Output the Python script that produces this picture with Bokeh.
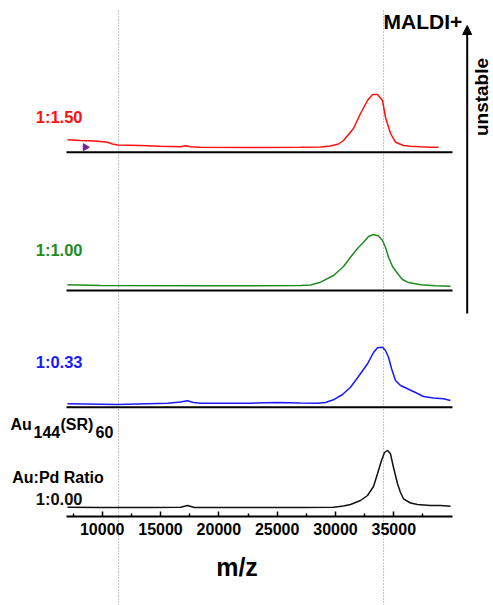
import numpy as np
from bokeh.plotting import figure
from bokeh.models import Range1d, LinearAxis, FixedTicker, Arrow, NormalHead
from bokeh.core.properties import value
from bokeh.embed import file_html
from bokeh.resources import INLINE

# ---- data (m/z, intensity in a.u. above each trace's own baseline) ----
mz_r = [7025, 8140, 9426, 10454, 10883, 11312, 13283, 14997, 16712, 17141, 17570, 18427, 22714, 27000,
        28715, 29572, 30258, 30686, 31543, 32144, 32744, 33173, 33601, 34030, 34288, 34716, 35145, 35830,
        36430, 37288, 38145, 38831]
int_r = [12.4, 11.7, 11.2, 10.0, 8.2, 7.2, 6.7, 5.9, 5.5, 6.4, 5.4, 5.0, 4.7, 4.9,
         5.2, 6.2, 8.2, 11.7, 23.7, 38.7, 51.7, 57.7, 57.7, 51.7, 34.7, 18.7, 10.0, 6.7,
         6.0, 5.4, 5.0, 5.0]

mz_g = [7025, 9854, 18427, 27000, 27857, 28715, 29829, 30686, 31286, 31886, 32401, 32830, 33258, 33687,
        34030, 34288, 34545, 34888, 35316, 35745, 36173, 37288, 38574, 39860]
int_g = [5.7, 5.0, 4.7, 5.0, 5.5, 8.3, 15.0, 24.0, 33.3, 42.0, 48.3, 54.0, 56.0, 54.5,
         50.0, 43.0, 33.3, 24.0, 17.0, 11.0, 8.3, 5.7, 4.7, 4.3]

mz_b = [7025, 11312, 15598, 16712, 17312, 17827, 18427, 22714, 25029, 27000, 28458, 29144, 29829, 30601,
        31286, 31972, 32744, 33258, 33601, 34030, 34288, 34545, 34802, 35145, 35573, 36173, 36859, 37545,
        38402, 39260, 39860]
int_b = [3.4, 2.7, 4.0, 5.2, 6.4, 4.7, 4.0, 4.0, 4.7, 4.2, 4.0, 4.7, 7.4, 12.7,
         20.0, 30.7, 43.4, 54.7, 59.4, 60.0, 56.7, 50.0, 38.7, 26.7, 21.7, 18.4, 14.7, 10.7,
         9.2, 8.4, 6.7]

mz_k = [7025, 9854, 14140, 16712, 17312, 17912, 22714, 27000, 29829, 30686, 31286, 32144, 32744, 33258,
        33601, 33944, 34201, 34459, 34716, 34973, 35316, 35573, 35830, 36430, 37030, 38145, 39002, 39860]
int_k = [9.3, 9.0, 9.0, 9.3, 11.0, 9.0, 9.0, 9.0, 9.3, 10.5, 12.0, 16.0, 21.0, 30.0,
         42.7, 56.0, 64.0, 66.0, 62.7, 49.0, 32.7, 24.0, 17.7, 13.5, 12.0, 11.0, 11.0, 10.3]

ratio_labels = ["1:1.50", "1:1.00", "1:0.33", "1:0.00"]
trace_colors = ["#ff1010", "#1f8c1f", "#1a1aff", "#111111"]
major_ticks = [10000, 15000, 20000, 25000, 30000, 35000]
minor_ticks = [7500, 12500, 17500, 22500, 27500, 32500, 37500]
ref_lines = [11400, 34120]
marker_mz = [8550]
marker_int = [5.0]

# ---- layout (screen-like coordinates) ----
W, H = 493, 605
X0, X1 = 1281, 43546
axis_lo, axis_hi = 6940, 40030
baselines = [453.3, 315.0, 198.3, 89.0]

p = figure(width=W, height=H, x_range=Range1d(X0, X1), y_range=Range1d(0, H),
           output_backend="svg", toolbar_location=None, min_border=0,
           x_axis_location=None, y_axis_location=None, outline_line_color=None)
p.xgrid.visible = False
p.ygrid.visible = False
p.background_fill_color = "white"
p.border_fill_color = "white"

FONT = value("Liberation Sans")

# dotted reference lines
p.segment(x0=ref_lines, y0=[0, 0], x1=ref_lines, y1=[595, 595],
          line_color="#8a8a8a", line_width=1, line_dash="1 2")

# baselines for upper three panels
p.segment(x0=[axis_lo] * 3, y0=baselines[:3], x1=[axis_hi] * 3, y1=baselines[:3],
          line_color="black", line_width=2)

# traces
series = [(mz_r, int_r), (mz_g, int_g), (mz_b, int_b), (mz_k, int_k)]
for (mz, it), base, col in zip(series, baselines, trace_colors):
    p.line(mz, np.array(it) + base, line_color=col, line_width=1.5)

# purple marker on top trace
p.scatter(marker_mz, np.array(marker_int) + baselines[0], marker="triangle", size=7,
          angle=-np.pi / 2, fill_color="#7a1f9a", line_color="#7a1f9a")

# bottom axis
ax = LinearAxis(fixed_location=baselines[3], bounds=(axis_lo, axis_hi),
                ticker=FixedTicker(ticks=major_ticks, minor_ticks=minor_ticks))
ax.axis_line_width = 2
ax.axis_line_color = "black"
ax.major_tick_in = 5
ax.major_tick_out = 0
ax.minor_tick_in = 3
ax.minor_tick_out = 0
ax.major_tick_line_width = 1.5
ax.minor_tick_line_width = 1.5
ax.major_label_standoff = 6
ax.major_label_text_font = "Liberation Sans"
ax.major_label_text_font_style = "bold"
ax.major_label_text_font_size = "16px"
ax.major_label_text_color = "black"
p.add_layout(ax, "below")

# ratio labels
label_y = [488.3, 355.7, 243.3, 107.0]
p.text(x=[8311] * 4, y=label_y, text=ratio_labels, text_color=trace_colors,
       text_font=FONT, text_font_style="bold", text_font_size="16.5px",
       text_align="right", text_baseline="middle")
p.text(x=[6211], y=[128.0], text=["Au:Pd Ratio"], text_color="black",
       text_font=FONT, text_font_style="bold", text_font_size="16px",
       text_align="center", text_baseline="middle")

# Au144(SR)60 formula
formula_parts = ["Au", "144", "(SR)", "60"]
formula_x = [2139, 4110, 6425, 9426]
formula_y = [181, 174, 181, 174]
p.text(x=formula_x, y=formula_y, text=formula_parts, text_font=FONT, text_font_style="bold",
       text_font_size="16px", text_align="left", text_baseline="alphabetic")

# m/z axis title
p.text(x=[21556], y=[39], text=["m/z"], text_font=FONT, text_font_style="bold",
       text_font_size="25px", text_align="center", text_baseline="middle")

# MALDI+ and unstable arrow
p.text(x=[34117], y=[584.5], text=["MALDI+"], text_font=FONT, text_font_style="bold",
       text_font_size="21px", text_align="left", text_baseline="middle")
p.text(x=[42560], y=[508.5], text=["unstable"], text_font=FONT, text_font_style="bold",
       text_font_size="19px", text_align="center", text_baseline="middle", angle=np.pi / 2)
p.add_layout(Arrow(x_start=41291, y_start=292, x_end=41291, y_end=580, line_width=2,
                   line_color="black",
                   end=NormalHead(size=9, fill_color="black", line_color="black")))

open("out.html", "w").write(file_html(p, INLINE))
